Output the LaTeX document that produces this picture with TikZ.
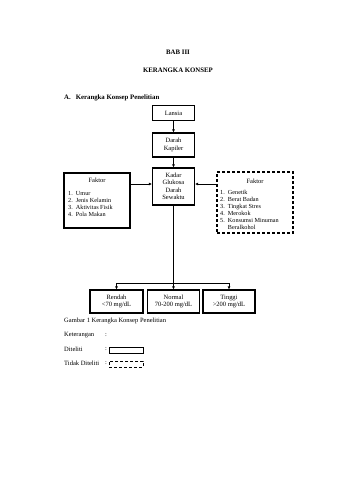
\documentclass[tikz,border=0pt]{standalone}
\usepackage{fontspec}
\setmainfont{Liberation Serif}
\usetikzlibrary{arrows.meta}
\begin{document}
\begin{tikzpicture}[x=1pt,y=-1pt,
  every node/.style={font=\fontsize{6.5}{7.5}\selectfont, inner sep=0pt},
  box/.style={draw, line width=1.1pt, align=center},
  dbox/.style={draw, line width=1.1pt, dash pattern=on 3pt off 2pt},
  conn/.style={line width=0.7pt},
  arr/.style={line width=0.7pt, -{Latex[length=3pt,width=3pt]}},
  lst/.style={align=left, anchor=north west, font=\fontsize{6.2}{7}\selectfont},
  txt/.style={anchor=west},
  hd/.style={font=\fontsize{6.8}{8}\selectfont\bfseries}]
\useasboundingbox[fill=white] (0,0) rectangle (340,480);
% headings
\node[hd] (bab) at (178,52) {BAB III};
\node[hd] (kk) at (178,70) {KERANGKA KONSEP};
\node[hd, anchor=west] (ha) at (64,98) {A.\hspace{5pt}Kerangka Konsep Penelitian};
% main boxes
\node[box, minimum width=42pt, minimum height=15pt] (lansia) at (173.5,113) {Lansia};
\node[box, minimum width=42pt, minimum height=24pt] (kapiler) at (173.5,145) {Darah\\Kapiler};
\node[box, minimum width=42pt, minimum height=37pt] (kadar) at (173.5,186.5) {Kadar\\Glukosa\\Darah\\Sewaktu};
% left factor
\node[box, minimum width=66pt, minimum height=55pt] (lf) at (97,200.5) {};
\node (lft) at (97,180.5) {Faktor};
\node[lst] (lfl) at (68,191) {1.\ \ Umur\\2.\ \ Jenis Kelamin\\3.\ \ Aktivitas Fisik\\4.\ \ Pola Makan};
% right factor
\node[dbox, minimum width=76pt, minimum height=61pt] (rf) at (255,202.5) {};
\node (rft) at (255,181) {Faktor};
\node[lst] (rfl) at (220,190) {1.\ \ Genetik\\2.\ \ Berat Badan\\3.\ \ Tingkat Stres\\4.\ \ Merokok\\5.\ \ Konsumsi Minuman\\\phantom{5.\ \ }Beralkohol};
% bottom boxes
\node[box, minimum width=53pt, minimum height=23pt] (rendah) at (116.5,301.5) {Rendah\\<70 mg/dL};
\node[box, minimum width=52pt, minimum height=23pt] (normal) at (173.5,301.5) {Normal\\70-200 mg/dL};
\node[box, minimum width=52pt, minimum height=23pt] (tinggi) at (229,301.5) {Tinggi\\>200 mg/dL};
% connectors
\draw[arr] (lansia) -- (kapiler);
\draw[arr] (kapiler) -- (kadar);
\draw[arr] (lf.east |- 0,184) -- (kadar.west |- 0,184);
\draw[arr] (rf.west |- 0,184) -- (kadar.east |- 0,184);
\coordinate (hl) at (116.5,283);
\coordinate (hr) at (229,283);
\coordinate (hm) at (173.5,283);
\draw[arr] (kadar) -- (normal);
\draw[conn] (hl) -- (hr);
\draw[arr] (hl) -- (rendah);
\draw[arr] (hr) -- (tinggi);
% caption and legend
\node[txt] (cap) at (64,321) {Gambar 1 Kerangka Konsep Penelitian};
\node[txt] (ket) at (64,335) {Keterangan};
\node[txt] (ketc) at (105,335) {:};
\node[txt] (dit) at (64,349) {Diteliti};
\node[txt] (ditc) at (105,349) {:};
\node[draw, line width=0.9pt, minimum width=34pt, minimum height=6pt] (ditb) at (126,350) {};
\node[txt] (tdit) at (64,363) {Tidak Diteliti};
\node[txt] (tditc) at (105,363) {:};
\node[draw, line width=0.9pt, dash pattern=on 3pt off 2pt, minimum width=34pt, minimum height=6pt] (tditb) at (126,364) {};
\end{tikzpicture}
\end{document}
